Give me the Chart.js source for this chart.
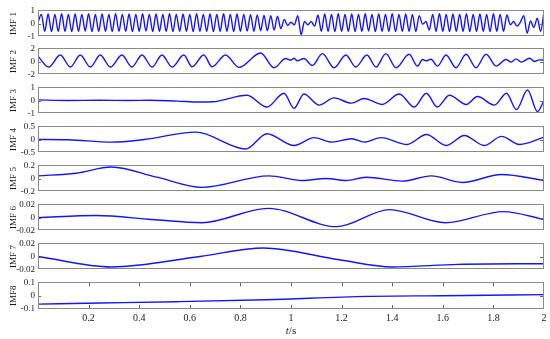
<!DOCTYPE html>
<html>
<head>
<meta charset="utf-8">
<script src="https://cdn.jsdelivr.net/npm/chart.js@4.4.0/dist/chart.umd.min.js"></script>
<style>
  html, body { margin: 0; padding: 0; background: #fff; }
  #wrap { position: relative; width: 550px; height: 339px; overflow: hidden; }
  #wrap canvas { position: absolute; left: 0; }
</style>
</head>
<body>
<div id="wrap"></div>
<script>
// --- Data (t in seconds) ---
// IMF 1: extrema on an even time grid from 0 to 2 s
const imf1Values = [
  0.1, 0.7, -0.6, 0.72, -0.62, 0.7, -0.6, 0.74, -0.6, 0.7,
  -0.62, 0.72, -0.6, 0.7, -0.58, 0.74, -0.62, 0.7, -0.6, 0.72,
  -0.6, 0.7, -0.62, 0.75, -0.6, 0.7, -0.6, 0.72, -0.62, 0.7,
  -0.6, 0.74, -0.58, 0.7, -0.62, 0.72, -0.6, 0.7, -0.6, 0.74,
  -0.62, 0.7, -0.6, 0.72, -0.6, 0.7, -0.62, 0.74, -0.6, 0.7,
  -0.6, 0.72, -0.62, 0.7, -0.6, 0.74, -0.6, 0.7, -0.62, 0.72,
  -0.6, 0.7, -0.58, 0.68, -0.6, 0.66, -0.55, 0.62, -0.55, 0.6,
  -0.5, 0.55, -0.4, 0.3, -0.15, 0.1, -0.1, 0.6, -0.85, 0.15,
  -0.1, 0.15, -0.2, 0.65, -0.6, 0.72, -0.6, 0.7, -0.62, 0.74,
  -0.6, 0.7, -0.6, 0.72, -0.62, 0.7, -0.6, 0.74, -0.58, 0.7,
  -0.62, 0.72, -0.6, 0.7, -0.6, 0.74, -0.62, 0.7, -0.6, 0.72,
  -0.6, 0.7, -0.62, 0.6, -0.05, 0.15, -0.5, 0.7, -0.6, 0.74,
  -0.6, 0.7, -0.62, 0.72, -0.6, 0.7, -0.6, 0.74, -0.62, 0.7,
  -0.6, 0.72, -0.6, 0.7, -0.62, 0.74, -0.6, 0.7, -0.6, 0.65,
  -0.1, 0.15, -0.2, 0.1, 0.6, -0.75, 0.2, -0.3, 0.4, -0.6,
  0.9
];
const imf1Step = 2 / (imf1Values.length - 1);
const imf1Times = imf1Values.map((v, i) => i * imf1Step);

const imf2Times = [0, 0.042, 0.088, 0.128, 0.167, 0.207, 0.246, 0.286, 0.332, 0.371,
  0.411, 0.451, 0.49, 0.53, 0.576, 0.609, 0.655, 0.688, 0.741, 0.794,
  0.88, 0.933, 0.979, 0.999, 1.012, 1.025, 1.051, 1.084, 1.124, 1.17,
  1.217, 1.256, 1.3, 1.336, 1.375, 1.415, 1.467, 1.5, 1.52, 1.533,
  1.553, 1.579, 1.613, 1.652, 1.692, 1.731, 1.771, 1.811, 1.85, 1.87,
  1.89, 1.91, 1.943, 1.962, 1.982, 2.0];
const imf2Values = [0.8, -0.85, 1.0, -0.85, 1.0, -0.85, 1.0, -0.85, 1.0, -0.85,
  1.0, -0.85, 1.0, -0.85, 1.0, -0.8, 1.0, -0.8, 1.0, -0.9,
  1.3, -0.95, 0.45, 0.2, 0.5, 0.1, 0.45, -0.6, 1.2, -0.95,
  1.0, -0.85, 1.0, -0.85, 1.2, -0.95, 1.1, -0.7, 0.3, 0.1,
  0.35, -0.7, 1.0, -0.95, 1.1, -0.95, 1.1, -0.7, 0.3, -0.1,
  0.4, -0.1, 0.5, 0.0, 0.25, 0.2];

const imf3Times = [0, 0.12, 0.24, 0.36, 0.44, 0.55, 0.64, 0.69, 0.826, 0.905,
  0.972, 1.012, 1.051, 1.111, 1.17, 1.238, 1.289, 1.36, 1.428, 1.487,
  1.535, 1.578, 1.626, 1.693, 1.737, 1.804, 1.852, 1.891, 1.935, 1.974, 2.0];
const imf3Values = [0.05, 0.0, 0.02, 0.0, 0.02, -0.05, -0.12, -0.1, 0.4, -0.5,
  0.55, -0.6, 0.5, -0.35, 0.2, -0.2, 0.15, -0.3, 0.5, -0.5,
  0.55, -0.5, 0.4, -0.3, 0.3, -0.35, 0.55, -0.7, 0.8, -0.85, 0.0];

const imf4Times = [0, 0.12, 0.29, 0.42, 0.624, 0.822, 0.905, 1.012, 1.091, 1.162,
  1.24, 1.289, 1.356, 1.459, 1.535, 1.614, 1.685, 1.764, 1.832, 1.903, 2.0];
const imf4Values = [0, -0.01, -0.1, 0.0, 0.28, -0.36, 0.22, -0.23, 0.07, -0.1,
  0.03, -0.1, 0.07, -0.19, 0.19, -0.23, 0.15, -0.23, 0.12, -0.19, 0.09];

const imf5Times = [0, 0.15, 0.29, 0.47, 0.648, 0.913, 1.044, 1.139, 1.218, 1.297,
  1.44, 1.554, 1.677, 1.832, 2.0];
const imf5Values = [0.04, 0.08, 0.175, 0.02, -0.135, 0.04, -0.03, 0.0, -0.03, 0.02,
  -0.04, 0.04, -0.06, 0.06, -0.03];

const imf6Times = [0, 0.23, 0.45, 0.648, 0.91, 1.18, 1.39, 1.61, 1.84, 2.0];
const imf6Values = [0, 0.003, -0.003, -0.008, 0.014, -0.014, 0.012, -0.008, 0.009, -0.003];

const imf7Times = [0, 0.29, 0.64, 0.89, 1.19, 1.4, 1.66, 2.0];
const imf7Values = [0, -0.016, 0.0, 0.013, -0.005, -0.016, -0.012, -0.011];

const imf8Times = [0, 0.25, 0.55, 0.9, 1.3, 1.6, 2.0];
const imf8Values = [-0.063, -0.055, -0.045, -0.03, -0.005, 0.0, 0.008];

const imfNames = ['IMF 1', 'IMF 2', 'IMF 3', 'IMF 4', 'IMF 5', 'IMF 6', 'IMF 7', 'IMF8'];
const imfLimits = [1, 2, 1, 0.5, 0.2, 0.02, 0.02, 0.1];
const xTickStep = 0.2;

const series = [
  [imf1Times, imf1Values], [imf2Times, imf2Values], [imf3Times, imf3Values], [imf4Times, imf4Values],
  [imf5Times, imf5Values], [imf6Times, imf6Values], [imf7Times, imf7Values], [imf8Times, imf8Values]
];

// --- Layout ---
const PANEL_TOPS = [10, 48, 87, 126, 165, 204, 243, 282];
const PANEL_H = 27;
const PAD = 8;
const SERIF = '"Liberation Serif", "DejaVu Serif", serif';
const TEXT = '#1a1a1a';

// box frame, inward ticks (y=0 on both sides, x ticks on the last panel), t/s label
const framePlugin = {
  id: 'frame',
  afterDraw(chart, args, opts) {
    const {ctx, chartArea: a} = chart;
    ctx.save();
    ctx.strokeStyle = '#666';
    ctx.lineWidth = 1;
    ctx.beginPath();
    const y0 = Math.round(chart.scales.y.getPixelForValue(0)) + 0.5;
    ctx.moveTo(a.left, y0); ctx.lineTo(a.left + 3, y0);
    ctx.moveTo(a.right, y0); ctx.lineTo(a.right - 4, y0);
    if (opts.xTicks) {
      const xs = chart.scales.x;
      xs.ticks.forEach(t => {
        if (t.value <= 0 || t.value >= 2) return;
        const px = Math.round(xs.getPixelForValue(t.value)) + 0.5;
        ctx.moveTo(px, a.top); ctx.lineTo(px, a.top + 4);
        ctx.moveTo(px, a.bottom); ctx.lineTo(px, a.bottom - 4);
      });
    }
    ctx.stroke();
    if (opts.xTicks) {
      // axis title: italic t, upright /s
      const cx = (a.left + a.right) / 2;
      const y = chart.height - 8;
      ctx.fillStyle = TEXT;
      ctx.textBaseline = 'middle';
      ctx.font = 'italic 11px ' + SERIF;
      const wT = ctx.measureText('t').width;
      ctx.font = '11px ' + SERIF;
      const wS = ctx.measureText('/s').width;
      const x0 = cx - (wT + wS) / 2;
      ctx.font = 'italic 11px ' + SERIF;
      ctx.textAlign = 'left';
      ctx.fillText('t', x0, y);
      ctx.font = '11px ' + SERIF;
      ctx.fillText('/s', x0 + wT, y);
    }
    ctx.strokeStyle = '#8a8a8a';
    ctx.strokeRect(Math.round(a.left) + 0.5, Math.round(a.top) + 0.5,
      Math.round(a.right - a.left) - 1, Math.round(a.bottom - a.top) - 1);
    ctx.restore();
  }
};

function makePanel(i) {
  const last = i === imfNames.length - 1;
  const wrap = document.getElementById('wrap');
  const canvas = document.createElement('canvas');
  const top = PANEL_TOPS[i] - PAD;
  const height = last ? 339 - top : PANEL_H + 2 * PAD;
  canvas.width = 550;
  canvas.height = height;
  canvas.style.top = top + 'px';
  canvas.style.width = '550px';
  canvas.style.height = height + 'px';
  wrap.appendChild(canvas);

  const lim = imfLimits[i];
  const [times, values] = series[i];

  new Chart(canvas.getContext('2d'), {
    type: 'line',
    data: {
      datasets: [{
        data: times.map((t, k) => ({x: t, y: values[k]})),
        borderColor: '#1414ff',
        borderWidth: 1.4,
        pointRadius: 0,
        fill: false,
        cubicInterpolationMode: 'monotone'
      }]
    },
    options: {
      responsive: false,
      animation: false,
      events: [],
      layout: { padding: { left: 0, right: 6, top: PAD, bottom: last ? 0 : PAD } },
      plugins: {
        legend: { display: false },
        tooltip: { enabled: false },
        frame: { xTicks: last }
      },
      scales: {
        x: {
          type: 'linear',
          min: 0,
          max: 2,
          display: last,
          grid: { display: false, drawTicks: false },
          border: { display: false },
          afterFit: (axis) => { axis.height = last ? 30 : 0; },
          ticks: {
            stepSize: xTickStep,
            padding: 3,
            color: TEXT,
            font: { family: SERIF, size: 10 },
            callback: (v) => v === 0 ? '' : String(Math.round(v * 10) / 10)
          }
        },
        y: {
          min: -lim,
          max: lim,
          grid: { display: false, drawTicks: false },
          border: { display: false },
          afterFit: (axis) => { axis.width = 38; },
          afterBuildTicks: (axis) => {
            axis.ticks = [{value: -lim}, {value: 0}, {value: lim}];
          },
          ticks: {
            autoSkip: false,
            padding: 3,
            color: TEXT,
            font: { family: SERIF, size: 9 },
            callback: (v) => String(v)
          },
          title: {
            display: true,
            text: imfNames[i],
            color: TEXT,
            font: { family: SERIF, size: 9 },
            padding: { top: 8, bottom: 0 }
          }
        }
      }
    },
    plugins: [framePlugin]
  });
}

imfNames.forEach((n, i) => makePanel(i));
</script>
</body>
</html>
